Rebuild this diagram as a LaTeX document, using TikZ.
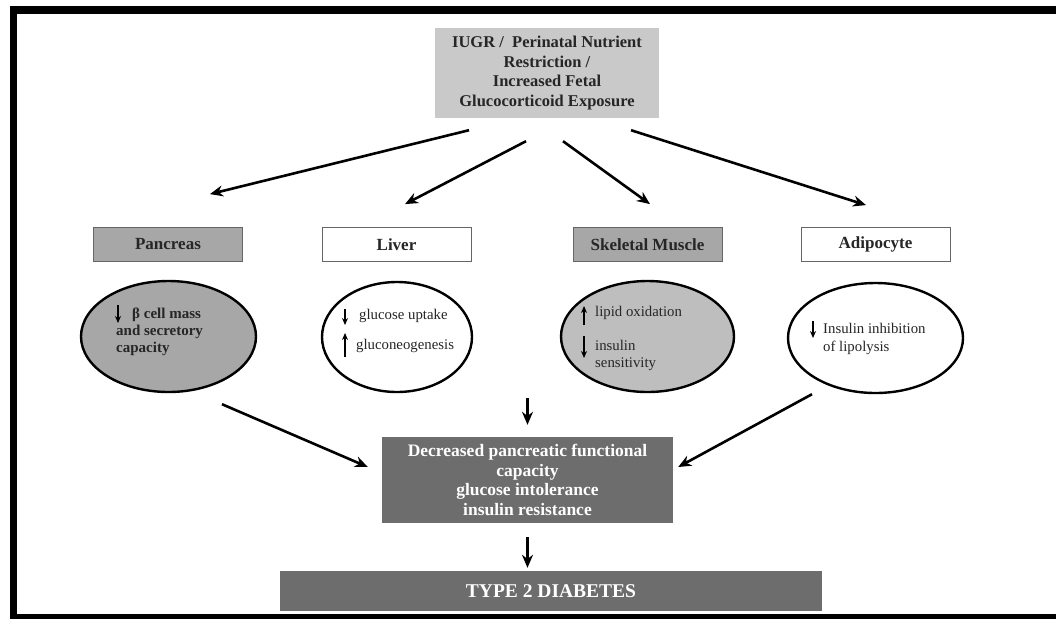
\documentclass[tikz,border=0pt]{standalone}
\usepackage{fontspec}
\setmainfont{Liberation Serif}
\usetikzlibrary{positioning, arrows.meta, calc, shapes.geometric}

\definecolor{causegray}{HTML}{C9C9C9}
\definecolor{pangray}{HTML}{A7A7A7}
\definecolor{musclegray}{HTML}{BEBEBE}
\definecolor{outgray}{HTML}{6D6D6D}

\tikzset{
  organ/.style={draw=black!60, line width=0.8pt, minimum width=149pt, minimum height=34pt,
    inner sep=0pt, font=\fontsize{17}{19}\selectfont\bfseries, text=black!85},
  blob/.style={ellipse, draw=black, line width=2.4pt, inner sep=0pt},
  fx/.style={anchor=base west, inner sep=0pt, font=\fontsize{14.8}{17}\selectfont, text=black!85},
  bigarr/.style={-{Stealth[length=13pt,width=11pt]}, line width=2.6pt},
  smallarr/.style={-{Stealth[length=7pt,width=6pt]}, line width=1.8pt}
}

\begin{document}
\begin{tikzpicture}[x=1pt,y=-1pt]
    \useasboundingbox (0,0) rectangle (1056,619);
    \fill[white] (0,0) rectangle (1056,619);
    % frame
    \fill[black] (9.5,6) rectangle (1056,14);
    \fill[black] (9.5,6) rectangle (17.3,619);
    \fill[black] (9.5,614) rectangle (1056,619);

    % cause
    \node[fill=causegray, minimum width=224pt, minimum height=90pt, inner sep=0pt, align=center,
      font=\fontsize{16.5}{19.5}\selectfont\bfseries, text=black!85] (cause) at (547,73)
      {IUGR /\ \ Perinatal Nutrient\\Restriction /\\Increased Fetal\\Glucocorticoid Exposure};

    % organs
    \node[organ, fill=pangray] (pan) at (168,244.5) {Pancreas};
    \node[organ, fill=white] (liv) at (396.5,244.5) {Liver};
    \node[organ, fill=pangray] (skm) at (647.5,244.5) {Skeletal Muscle};
    \node[organ, fill=white] (adi) at (875.5,244.5) {Adipocyte};

    % effects
    \node[blob, fill=pangray, minimum width=175pt, minimum height=111pt] (pane) at (168.5,336.5) {};
    \node[blob, fill=white, minimum width=150pt, minimum height=110pt] (live) at (397,337) {};
    \node[blob, fill=musclegray, minimum width=173pt, minimum height=111pt] (skme) at (647.5,336.5) {};
    \node[blob, fill=white, minimum width=175pt, minimum height=110pt] (adie) at (875.5,338) {};

    \node[fx, font=\fontsize{15}{17}\selectfont\bfseries] (p1) at (132,318) {β cell mass};
    \node[fx, font=\fontsize{15}{17}\selectfont\bfseries] (p2) at (116,335) {and secretory};
    \node[fx, font=\fontsize{15}{17}\selectfont\bfseries] (p3) at (116,352) {capacity};
    \draw[smallarr] ($(p1.base west)+(-14,-13)$) -- ($(p1.base west)+(-14,5)$);

    \node[fx] (l1) at (359,319) {glucose uptake};
    \node[fx] (l2) at (356,349) {gluconeogenesis};
    \draw[smallarr] ($(l1.base west)+(-14,-10)$) -- ($(l1.base west)+(-14,6)$);
    \draw[smallarr] ($(l2.base west)+(-11,8)$) -- ($(l2.base west)+(-11,-16)$);

    \node[fx] (s1) at (595,316) {lipid oxidation};
    \node[fx] (s2) at (595,350) {insulin};
    \node[fx] (s3) at (595,367) {sensitivity};
    \draw[smallarr] ($(s1.base west)+(-11,9)$) -- ($(s1.base west)+(-11,-10)$);
    \draw[smallarr] ($(s2.base west)+(-11,-14)$) -- ($(s2.base west)+(-11,8)$);

    \node[fx] (a1) at (823,333) {Insulin inhibition};
    \node[fx] (a2) at (823,351) {of lipolysis};
    \draw[smallarr] ($(a1.base west)+(-10,-12)$) -- ($(a1.base west)+(-10,5)$);

    % outcome
    \node[fill=outgray, minimum width=291pt, minimum height=86pt, inner sep=0pt, align=center,
      font=\fontsize{17.5}{19.5}\selectfont\bfseries, text=white] (mid) at (527.5,480)
      {Decreased pancreatic functional\\capacity\\glucose intolerance\\insulin resistance};
    \node[fill=outgray, minimum width=542pt, minimum height=40pt, inner sep=0pt,
      font=\fontsize{19.5}{22}\selectfont\bfseries, text=white] (t2d) at (551,591) {TYPE 2 DIABETES};

    \path[bigarr]
    ([xshift=-78pt,yshift=-12pt]cause.south) edge ([xshift=42pt,yshift=33pt]pan.north)
    ([xshift=-21pt,yshift=-23pt]cause.south) edge ([xshift=8.5pt,yshift=23pt]liv.north)
    ([xshift=16pt,yshift=-23pt]cause.south) edge ([xshift=2.5pt,yshift=23pt]skm.north)
    ([xshift=84pt,yshift=-12pt]cause.south) edge ([xshift=-9.5pt,yshift=22pt]adi.north)
    ([xshift=53.5pt,yshift=-11pt]pane.south) edge ([xshift=-14pt,yshift=13pt]mid.west)
    ([xshift=-63.5pt]adie.south) edge ([xshift=5pt,yshift=13pt]mid.east)
    ([yshift=39pt]mid.north) edge ([yshift=12pt]mid.north)
    ([yshift=-14pt]mid.south) edge ([yshift=3pt]mid.south |- t2d.north)
    ;
\end{tikzpicture}
\end{document}
